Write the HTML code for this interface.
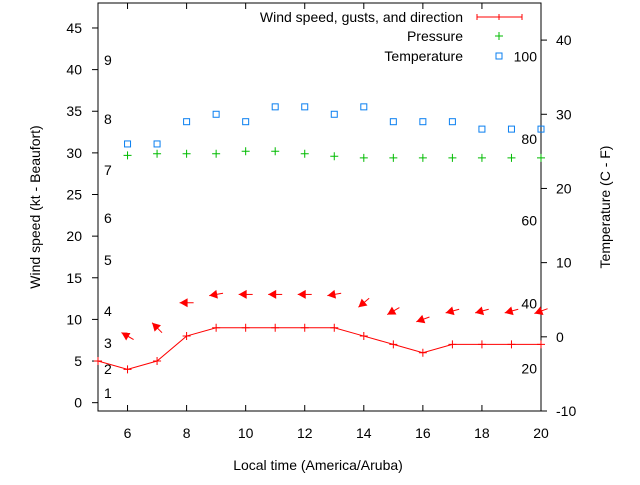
<!DOCTYPE html>
<html><head><meta charset="utf-8">
<style>
body{margin:0;background:#fff;}
svg text{font-family:"Liberation Sans",sans-serif;font-size:14px;fill:#000;}
</style></head>
<body>
<svg id="chart" width="640" height="480" xmlns="http://www.w3.org/2000/svg">
<g id="axes"></g>
<g id="marks"></g>
</svg>
<script>
const hours=[5,6,7,8,9,10,11,12,13,14,15,16,17,18,19,20];
const windSpeed=[5,4,5,8,9,9,9,9,9,8,7,6,7,7,7,7];
const windDir=[null,120,135,90,80,90,90,90,80,50,60,70,75,75,75,70];
const pressHours=[6,7,8,9,10,11,12,13,14,15,16,17,18,19,20];
const pressure=[29.7,29.9,29.9,29.9,30.2,30.2,29.9,29.6,29.4,29.4,29.4,29.4,29.4,29.4,29.4];
const tempHours=[6,7,8,9,10,11,12,13,14,15,16,17,18,19,20];
const temperature=[26,26,29,30,29,31,31,30,31,29,29,29,28,28,28];
const xTicks=[6,8,10,12,14,16,18,20];
const yTicks=[0,5,10,15,20,25,30,35,40,45];
const y2Ticks=[-10,0,10,20,30,40];
const beaufort=[["1",393],["2",369],["3",343],["4",311],["5",260],["6",218],["7",170],["8",119],["9",60]];
const fahr=[["20",-4.3],["40",4.5],["60",15.7],["80",26.7],["100",37.8]];

const L=98,R=541,T=3,B=411;
const xs=v=>L+(v-5)/(15)*(R-L);
const ys=v=>B-(v+1)/49*(B-T);
const y2=v=>B-(v+10)/55*(B-T);
const NS="http://www.w3.org/2000/svg";
const ax=document.getElementById('axes'),mk=document.getElementById('marks');
function el(p,t,a,txt){const e=document.createElementNS(NS,t);for(const k in a)e.setAttribute(k,a[k]);if(txt!==undefined)e.textContent=txt;p.appendChild(e);return e;}

const frame=el(ax,'rect',{x:L,y:T,width:R-L,height:B-T,fill:'none',stroke:'#000','stroke-width':1});

xTicks.forEach(v=>{const x=xs(v);
 el(ax,'line',{x1:x,x2:x,y1:B,y2:B-6,stroke:'#000'});el(ax,'line',{x1:x,x2:x,y1:T,y2:T+6,stroke:'#000'});
 const t=el(ax,'text',{x:x,y:438,'text-anchor':'middle'},v);
 });
yTicks.forEach(v=>{const y=ys(v);
 el(ax,'line',{x1:L,x2:L-6,y1:y,y2:y,stroke:'#000'});
 const t=el(ax,'text',{x:82,y:y+5,'text-anchor':'end'},v);
 });
y2Ticks.forEach(v=>{const y=y2(v);
 el(ax,'line',{x1:R,x2:R+6,y1:y,y2:y,stroke:'#000'});
 const t=el(ax,'text',{x:556,y:y+5},v);
 });
beaufort.forEach(b=>{const t=el(ax,'text',{x:104,y:b[1]+5},b[0]);
 });
fahr.forEach(f=>{const t=el(ax,'text',{x:537,y:y2(f[1])+5,'text-anchor':'end'},f[0]);
 });
let t=el(ax,'text',{x:318,y:470,'text-anchor':'middle'},'Local time (America/Aruba)');

t=el(ax,'text',{x:0,y:0,'text-anchor':'middle',transform:'translate(40,207) rotate(-90)'},'Wind speed (kt - Beaufort)');

t=el(ax,'text',{x:0,y:0,'text-anchor':'middle',transform:'translate(610,207) rotate(-90)'},'Temperature (C - F)');


const pts=hours.map((h,i)=>xs(h)+','+ys(windSpeed[i])).join(' ');
const wl=el(mk,'polyline',{points:pts,fill:'none',stroke:'#f00','stroke-width':1});

hours.forEach((h,i)=>{const x=xs(h),y=ys(windSpeed[i]);
 const p=el(mk,'path',{d:`M${x-4},${y}H${x+4}M${x},${y-4}V${y+4}`,stroke:'#f00'});
 
 const d=windDir[i]; if(d===null)return;
 const a=(d+180)*Math.PI/180; const dx=Math.sin(a),dy=-Math.cos(a);
 const cx=x,cy=ys(windSpeed[i]+4),len=7;
 const hx=cx+dx*len,hy=cy+dy*len,tx=cx-dx*len,ty=cy-dy*len;
 const px=-dy,py=dx;
 const g=el(mk,'g',{});
 
 el(g,'line',{x1:tx,y1:ty,x2:hx,y2:hy,stroke:'#f00'});
 el(g,'polygon',{points:`${hx},${hy} ${hx-dx*8+px*4.5},${hy-dy*8+py*4.5} ${hx-dx*8-px*4.5},${hy-dy*8-py*4.5}`,fill:'#f00'});
});
pressHours.forEach((h,i)=>{const x=xs(h),y=ys(pressure[i]);
 const p=el(mk,'path',{d:`M${x-4},${y}H${x+4}M${x},${y-4}V${y+4}`,stroke:'#0b0'});
 });
tempHours.forEach((h,i)=>{const x=xs(h),y=y2(temperature[i]);
 const r=el(mk,'rect',{x:x-3,y:y-3,width:6,height:6,fill:'none',stroke:'#0a7ff0'});
 });

const lg=el(mk,'g',{});
[['Wind speed, gusts, and direction',17],['Pressure',36],['Temperature',56]].forEach(l=>{
 const e=el(lg,'text',{x:463,y:l[1]+5,'text-anchor':'end'},l[0]);
 });
el(lg,'path',{d:'M477,17H522M477,14V20M522,14V20M499,14V20',stroke:'#f00'});
el(lg,'path',{d:'M495,36H503M499,32V40',stroke:'#0b0'});
el(lg,'rect',{x:496,y:53,width:6,height:6,fill:'none',stroke:'#0a7ff0'});
</script>
</body></html>
